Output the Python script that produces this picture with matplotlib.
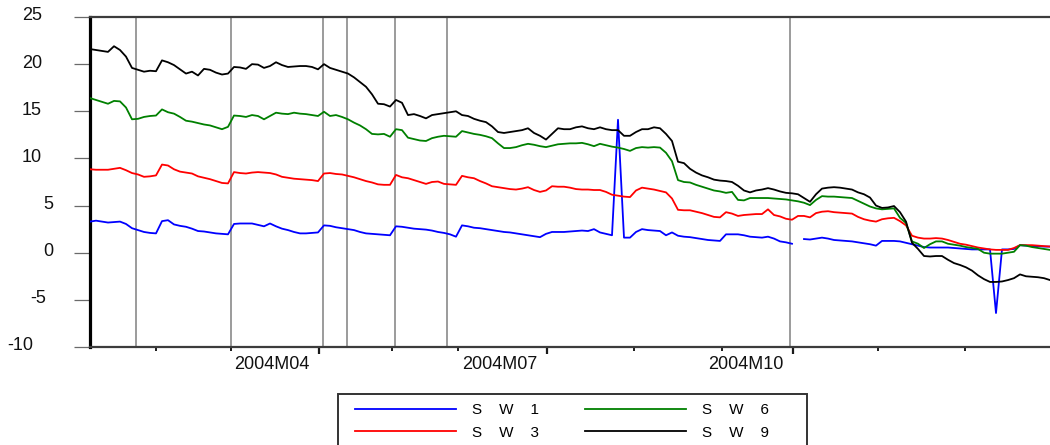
import numpy as np
import matplotlib
matplotlib.use("Agg")
import matplotlib.pyplot as plt
from matplotlib.transforms import ScaledTranslation
from matplotlib.patches import Rectangle

plt.rcParams['font.family'] = ['Liberation Sans', 'DejaVu Sans']

# ---------------- data (one value per observation) ----------------
sw9 = [21.6, 21.5, 21.4, 21.3, 21.9, 21.5, 20.8, 19.6, 19.4, 19.2,
       19.3, 19.25, 20.4, 20.2, 19.9, 19.45, 19.0, 19.2, 18.8, 19.5,
       19.4, 19.1, 18.9, 19.0, 19.7, 19.65, 19.5, 20.0, 19.95, 19.6,
       19.8, 20.2, 19.9, 19.7, 19.75, 19.8, 19.8, 19.7, 19.45, 20.0,
       19.6, 19.4, 19.2, 19.0, 18.6, 18.1, 17.6, 16.8, 15.8, 15.75,
       15.5, 16.2, 15.9, 14.6, 14.7, 14.5, 14.25, 14.6, 14.7, 14.8,
       14.9, 15.0, 14.6, 14.5, 14.2, 14.0, 13.85, 13.4, 12.8, 12.7,
       12.8, 12.9, 13.0, 13.2, 12.7, 12.4, 12.0, 12.6, 13.2, 13.1,
       13.1, 13.3, 13.4, 13.2, 13.1, 13.3, 13.1, 13.0, 13.0, 12.4,
       12.4, 12.8, 13.1, 13.1, 13.3, 13.2, 12.6, 11.85, 9.65, 9.5,
       8.9, 8.5, 8.2, 8.0, 7.75, 7.65, 7.6, 7.5, 7.1, 6.6,
       6.4, 6.6, 6.7, 6.85, 6.7, 6.5, 6.35, 6.3, 6.2, 5.8,
       5.4, 6.2, 6.8, 6.9, 6.95, 6.9, 6.8, 6.7, 6.4, 6.2,
       5.85, 5.0, 4.75, 4.8, 4.95, 4.3, 3.3, 1.05, 0.4, -0.35,
       -0.4, -0.35, -0.35, -0.75, -1.1, -1.3, -1.55, -1.9, -2.4, -2.8,
       -3.1, -3.1, -3.05, -2.9, -2.7, -2.3, -2.5, -2.55, -2.6, -2.7,
       -2.9]

sw6 = [16.4, 16.2, 16.0, 15.8, 16.1, 16.05, 15.4, 14.15, 14.2, 14.4,
       14.5, 14.55, 15.2, 14.9, 14.75, 14.4, 14.0, 13.9, 13.75, 13.6,
       13.5, 13.3, 13.1, 13.35, 14.55, 14.5, 14.4, 14.6, 14.5, 14.15,
       14.5, 14.85, 14.75, 14.7, 14.85, 14.75, 14.7, 14.6, 14.5, 14.95,
       14.5, 14.6, 14.4, 14.15, 13.8, 13.5, 13.1, 12.6, 12.55, 12.6,
       12.3, 13.1, 13.0, 12.2, 12.05, 11.9, 11.85, 12.15, 12.3, 12.4,
       12.35, 12.3, 12.9, 12.75, 12.6, 12.5, 12.35, 12.15, 11.6, 11.1,
       11.1, 11.2, 11.4, 11.55, 11.45, 11.3, 11.2, 11.35, 11.5, 11.55,
       11.6, 11.6, 11.65, 11.5, 11.3, 11.55, 11.4, 11.25, 11.15, 11.0,
       10.8, 11.1, 11.2, 11.15, 11.2, 11.15, 10.6, 9.7, 7.7, 7.5,
       7.45, 7.2, 7.0, 6.8, 6.6, 6.5, 6.35, 6.45, 5.6, 5.55,
       5.8, 5.8, 5.8, 5.8, 5.75, 5.7, 5.65, 5.55, 5.45, 5.3,
       5.05, 5.6, 6.0, 5.95, 5.95, 5.9, 5.85, 5.8, 5.5, 5.2,
       4.9, 4.7, 4.6, 4.65, 4.7, 3.7, 3.15, 1.2, 0.95, 0.5,
       0.9, 1.2, 1.2, 0.95, 0.85, 0.75, 0.6, 0.5, 0.4, 0.0,
       -0.1, -0.1, -0.1, 0.0, 0.1, 0.8, 0.75, 0.6, 0.5, 0.4,
       0.3]

sw3 = [8.85, 8.8, 8.8, 8.8, 8.9, 9.0, 8.75, 8.45, 8.3, 8.05,
       8.1, 8.2, 9.35, 9.25, 8.85, 8.6, 8.5, 8.4, 8.1, 7.95,
       7.8, 7.6, 7.4, 7.35, 8.55, 8.45, 8.4, 8.5, 8.55, 8.5,
       8.45, 8.3, 8.05, 7.95, 7.85, 7.8, 7.75, 7.7, 7.6, 8.4,
       8.45, 8.35, 8.3, 8.15, 8.0, 7.8, 7.6, 7.45, 7.25, 7.2,
       7.2, 8.25, 8.0, 7.9, 7.7, 7.5, 7.3, 7.5, 7.55, 7.3,
       7.25, 7.2, 8.15, 8.0, 7.9, 7.6, 7.35, 7.05, 6.95, 6.85,
       6.75, 6.7, 6.8, 6.95, 6.65, 6.45, 6.6, 7.05, 7.0, 7.0,
       6.9, 6.75, 6.7, 6.7, 6.65, 6.65, 6.45, 6.15, 6.05, 5.95,
       5.9, 6.6, 6.9, 6.8, 6.7, 6.55, 6.4, 5.75, 4.55, 4.5,
       4.5, 4.35, 4.2, 4.0, 3.8, 3.75, 4.3, 4.15, 3.9, 4.0,
       4.05, 4.1, 4.1, 4.6, 4.0, 3.85, 3.6, 3.5, 3.9, 3.9,
       3.75, 4.2, 4.35, 4.4, 4.3, 4.25, 4.2, 4.15, 3.8, 3.55,
       3.4, 3.3, 3.55, 3.65, 3.7, 3.35, 2.9, 1.8, 1.6, 1.5,
       1.5, 1.55, 1.5, 1.35, 1.15, 0.95, 0.85, 0.7, 0.55, 0.45,
       0.35, 0.3, 0.3, 0.3, 0.5, 0.8, 0.8, 0.8, 0.75, 0.7,
       0.65]

sw1 = [3.3, 3.4, 3.3, 3.2, 3.25, 3.3, 3.05, 2.6, 2.4, 2.2,
       2.1, 2.05, 3.35, 3.45, 3.0, 2.85, 2.75, 2.55, 2.3, 2.25,
       2.15, 2.05, 2.0, 1.95, 3.05, 3.1, 3.1, 3.1, 2.95, 2.8,
       3.1, 2.8, 2.55, 2.4, 2.2, 2.05, 2.05, 2.1, 2.15, 2.9,
       2.85, 2.7, 2.6, 2.5, 2.4, 2.2, 2.05, 2.0, 1.95, 1.9,
       1.85, 2.8, 2.75, 2.65, 2.55, 2.5, 2.45, 2.35, 2.2, 2.1,
       1.95, 1.7, 2.9, 2.8, 2.65, 2.6, 2.5, 2.4, 2.3, 2.2,
       2.15, 2.05, 1.95, 1.85, 1.75, 1.65, 2.0, 2.2, 2.2, 2.2,
       2.25, 2.3, 2.35, 2.3, 2.5, 2.15, 2.0, 1.85, 14.1, 1.6,
       1.6, 2.2, 2.5, 2.4, 2.35, 2.3, 1.85, 2.15, 1.8, 1.7,
       1.65, 1.55, 1.45, 1.35, 1.3, 1.25, 1.95, 1.95, 1.95, 1.85,
       1.7, 1.65, 1.6, 1.7, 1.5, 1.2, 1.1, 0.95, np.nan, 1.45,
       1.4, 1.5, 1.6, 1.5, 1.35, 1.3, 1.25, 1.2, 1.1, 1.0,
       0.9, 0.75, 1.25, 1.25, 1.25, 1.2, 1.05, 0.9, 0.75, 0.6,
       0.55, 0.55, 0.55, 0.55, 0.5, 0.45, 0.4, 0.35, 0.35, 0.35,
       0.35, -6.4, 0.35, 0.35, 0.4, 0.8, 0.75, 0.7, 0.7, 0.65,
       0.65]

series_labels = ["S    W    1", "S    W    3", "S    W    6", "S    W    9"]
series_colors = ["#0000ff", "#ff0000", "#008000", "#000000"]

# axis configuration (observation indices)
quarter_ticks = [38.17, 76.17, 117.17]
quarter_labels = ["2004M04", "2004M07", "2004M10"]
month_ticks = [11.0, 23.5, 50.33, 61.33, 90.67, 105.33, 131.33, 145.83]
event_obs = [7.67, 23.5, 38.83, 42.83, 50.83, 59.5, 116.67]
yticks = [-10, -5, 0, 5, 10, 15, 20, 25]

# ---------------- figure ----------------
W, H = 1050, 445
fig = plt.figure(figsize=(W / 100, H / 100), dpi=100)
ax = fig.add_axes([90 / W, 1 - 347 / H, 960 / W, 330 / H])

x = np.arange(len(sw1))

for ev in event_obs:
    ax.axvline(ev, color="#8a8a8a", lw=1.2, zorder=1)

handles = []
for data, lab, col in zip([sw1, sw3, sw6, sw9], series_labels, series_colors):
    h, = ax.plot(x, data, color=col, lw=1.3, label=lab, zorder=3)
    handles.append(h)

ax.set_xlim(0, len(sw1) - 1)
ax.set_ylim(-10, 25)

# spines
ax.spines["right"].set_visible(False)
ax.spines["left"].set_color("#000000")
ax.spines["left"].set_linewidth(2.3)
for s in ["top", "bottom"]:
    ax.spines[s].set_color("#3c3c3c")
    ax.spines[s].set_linewidth(1.6)

# y ticks
ax.set_yticks(yticks)
ax.set_yticklabels([str(v) for v in yticks])
ax.tick_params(axis="y", direction="out", length=11.5, width=0.9,
               color="#6a6a6a", pad=23, labelsize=13, labelcolor="#111111")
right_edge_shift = {25: 0, 20: 0, 15: 0, 10: 0, 5: 11, 0: 11, -5: 4, -10: -9}
for lab, v in zip(ax.get_yticklabels(), yticks):
    dx = right_edge_shift[v] / 100
    lab.set_transform(lab.get_transform() +
                      ScaledTranslation(dx, 3 / 100, fig.dpi_scale_trans))

# x ticks
ax.set_xticks(quarter_ticks)
ax.set_xticklabels(quarter_labels)
ax.set_xticks(month_ticks, minor=True)
ax.tick_params(axis="x", which="major", direction="out", length=5.2, width=1.6,
               color="#1a1a1a", pad=1.5, labelsize=13, labelcolor="#111111")
ax.tick_params(axis="x", which="minor", direction="out", length=3.2, width=1.4,
               color="#1a1a1a")
for lab in ax.get_xticklabels():
    lab.set_transform(lab.get_transform() +
                      ScaledTranslation(-47 / 100, 0, fig.dpi_scale_trans))

# legend
fig.legend(handles=handles, labels=series_labels, ncol=2,
           loc="upper left", bbox_to_anchor=(355 / W, 1 - 403 / H),
           bbox_transform=fig.transFigure, frameon=False,
           borderpad=0, borderaxespad=0, handlelength=6.6,
           handletextpad=1.05, columnspacing=3.0, labelspacing=0.56,
           fontsize=11)
box = Rectangle((338 / W, -0.1), (807 - 338) / W, 0.1 + (445 - 394) / H,
                transform=fig.transFigure, fill=False,
                edgecolor="#333333", lw=1.4)
fig.add_artist(box)

fig.savefig("out.png", dpi=100)
